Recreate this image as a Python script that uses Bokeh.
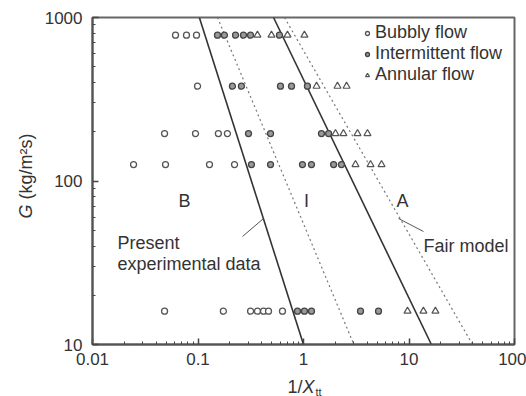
import math
from bokeh.plotting import figure
from bokeh.models import Range1d, Label, Legend, LegendItem, CustomJSTickFormatter, FixedTicker
from bokeh.embed import file_html
from bokeh.resources import INLINE

# ---- data ----
bubbly_x = [0.0612, 0.0778, 0.0968,
            0.099,
            0.0482, 0.0947, 0.156, 0.190,
            0.0245, 0.0492, 0.1285, 0.222,
            0.0482, 0.174, 0.315, 0.366, 0.418, 0.466, 0.632]
bubbly_g = [780, 780, 780,
            380,
            195, 195, 195, 195,
            126, 126, 126, 126,
            16, 16, 16, 16, 16, 16, 16]

inter_x = [0.153, 0.178, 0.227, 0.270, 0.315, 0.592,
           0.212, 0.258, 0.605, 0.77, 1.09,
           0.301, 0.487, 1.48, 1.73,
           0.321, 0.487, 0.978, 1.19, 1.93, 2.29,
           0.877, 1.02, 1.19, 3.47, 5.14]
inter_g = [780, 780, 780, 780, 780, 780,
           380, 380, 380, 380, 380,
           195, 195, 195, 195,
           126, 126, 126, 126, 126, 126,
           16, 16, 16, 16, 16]

annular_x = [0.366, 0.497, 0.705, 1.02,
             1.33, 2.10, 2.56,
             2.01, 2.39, 3.25, 4.04,
             3.11, 4.32, 5.49,
             9.68, 13.7, 17.8]
annular_g = [780, 780, 780, 780,
             380, 380, 380,
             195, 195, 195, 195,
             126, 126, 126,
             16, 16, 16]

# transition boundaries (1/Xtt at G = 1000 and G = 10)
boundary_g = [1000, 10]
present_bi_x = [0.103, 1.0]
fair_bi_x = [0.153, 3.0]
present_ia_x = [0.52, 16.3]
fair_ia_x = [0.66, 40.0]

x_major = [0.01, 0.1, 1, 10, 100]
y_major = [10, 100, 1000]

# ---- layout helpers (pixel position -> data position for annotations) ----
FL, FT, FB, FR = 92, 17, 344, 514
XPD = 105.5
YPD = 163.5


def px_x(px):
    return 10 ** (-2 + (px - FL) / XPD)


def px_y(py):
    return 10 ** (3 - (py - FT) / YPD)


FONT = "Liberation Sans"
FS = "18px"
TXT = "#333333"

p = figure(width=526, height=396, x_axis_type="log", y_axis_type="log",
           x_range=Range1d(0.01, 100), y_range=Range1d(10, 1000),
           output_backend="svg", toolbar_location=None,
           min_border_left=FL, min_border_right=526 - FR,
           min_border_top=FT, min_border_bottom=396 - FB)
p.grid.visible = False
p.outline_line_color = "#666666"
p.outline_line_width = 2
p.background_fill_color = "white"
p.border_fill_color = "white"


def minors(majors):
    return [m * k for m in majors[:-1] for k in range(2, 10)]


p.xaxis.ticker = FixedTicker(ticks=x_major, minor_ticks=minors(x_major))
p.yaxis.ticker = FixedTicker(ticks=y_major, minor_ticks=minors(y_major))

for ax in (p.xaxis[0], p.yaxis[0]):
    ax.axis_line_color = "#555555"
    ax.axis_line_width = 2
    ax.major_tick_in = 6
    ax.major_tick_out = 0
    ax.minor_tick_in = 3
    ax.minor_tick_out = 0
    ax.major_tick_line_color = "#444444"
    ax.minor_tick_line_color = "#444444"
    ax.major_tick_line_width = 1.5
    ax.major_label_text_font = FONT
    ax.major_label_text_font_size = "17px"
    ax.major_label_text_color = TXT
    ax.formatter = CustomJSTickFormatter(code="return String(tick)")
p.xaxis.major_label_standoff = 8
p.yaxis.major_label_standoff = 10

# boundary lines
p.line(present_bi_x, boundary_g, line_color="#333333", line_width=1.6)
p.line(present_ia_x, boundary_g, line_color="#333333", line_width=1.6)
p.line(fair_bi_x, boundary_g, line_color="#777777", line_width=1.2, line_dash="2 3")
p.line(fair_ia_x, boundary_g, line_color="#777777", line_width=1.2, line_dash="2 3")

r_b = p.scatter(bubbly_x, bubbly_g, marker="circle", size=6,
                line_color="#555555", line_width=1.3, fill_color="white")
r_i = p.scatter(inter_x, inter_g, marker="circle", size=6,
                line_color="#444444", line_width=1.3, fill_color="#999999")
r_a = p.scatter(annular_x, annular_g, marker="triangle", size=7,
                line_color="#555555", line_width=1.2, fill_color="white")

legend = Legend(items=[LegendItem(label="Bubbly flow", renderers=[r_b]),
                       LegendItem(label="Intermittent flow", renderers=[r_i]),
                       LegendItem(label="Annular flow", renderers=[r_a])],
                location=(270, 259), padding=0, margin=0, spacing=0,
                glyph_width=10, glyph_height=10, label_standoff=3,
                label_height=19,
                label_text_font=FONT, label_text_font_size=FS,
                label_text_color=TXT,
                border_line_alpha=0, background_fill_alpha=0)
p.add_layout(legend)


def lab(text, px, py, align="left", style="normal", size=FS, angle=0.0,
        baseline="alphabetic", place="center"):
    p.add_layout(Label(x=px_x(px), y=px_y(py), text=text, text_font=FONT,
                       text_font_size=size, text_color=TXT,
                       text_font_style=style, text_align=align,
                       text_baseline=baseline, angle=angle), place)


# region labels
lab("B", 184, 200, align="center")
lab("I", 306, 200, align="center")
lab("A", 402, 200, align="center")
lab("Present", 117, 242)
lab("experimental data", 117, 263)
lab("Fair model", 423, 245)

# leader lines
p.line([px_x(242), px_x(263)], [px_y(236), px_y(218)], line_color="#555555", line_width=1)
p.line([px_x(398), px_x(423)], [px_y(218), px_y(231)], line_color="#555555", line_width=1)

# axis titles: kept in side panels (outside the clipped frame), spread over
# panels that have room so the frame keeps its size
lab("1/", 287, 386, place="below")
lab("X", 302, 386, style="italic", place="right")
lab("tt", 315, 391, size="11px", place="above")
lab("G", 25, 218, style="italic", angle=math.pi / 2, baseline="middle", place="left")
lab("(kg/m\u00b2s)", 25, 199, angle=math.pi / 2, baseline="middle", place="left")

open("out.html", "w").write(file_html(p, INLINE))
